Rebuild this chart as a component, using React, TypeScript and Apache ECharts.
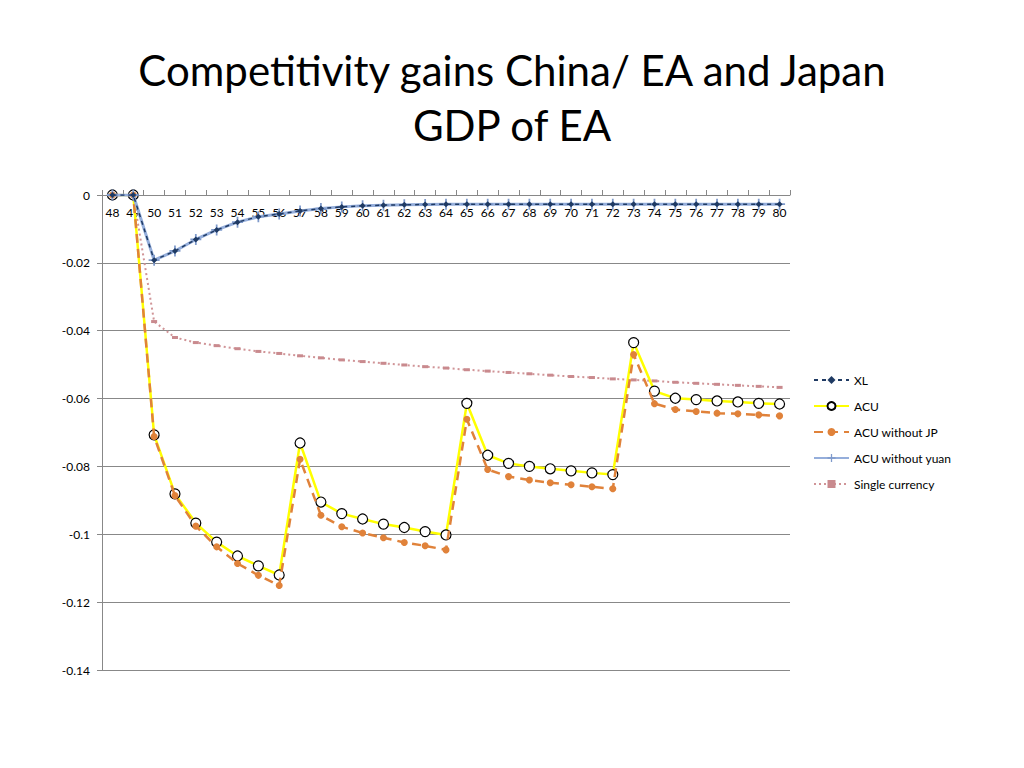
import React, { useEffect, useRef } from "react";
import * as echarts from "echarts";

const categories = [
  "48","49","50","51","52","53","54","55","56","57","58","59","60","61","62","63","64",
  "65","66","67","68","69","70","71","72","73","74","75","76","77","78","79","80",
];

const xl = [
  0, 0, -0.0192, -0.0165, -0.0131, -0.0103, -0.008, -0.0064, -0.0056, -0.0047, -0.004,
  -0.0035, -0.0032, -0.003, -0.0029, -0.0028, -0.0027, -0.0027, -0.0027, -0.0027, -0.0027,
  -0.0027, -0.0027, -0.0027, -0.0027, -0.0027, -0.0027, -0.0027, -0.0027, -0.0027, -0.0027,
  -0.0027, -0.0027,
];

const acu = [
  0, 0, -0.0707, -0.0881, -0.0967, -0.1023, -0.1064, -0.1093, -0.112, -0.0731, -0.0905,
  -0.0939, -0.0955, -0.097, -0.098, -0.0992, -0.1002, -0.0614, -0.0767, -0.0791, -0.08,
  -0.0807, -0.0813, -0.0819, -0.0824, -0.0435, -0.0578, -0.0599, -0.0603, -0.0607, -0.061,
  -0.0614, -0.0616,
];

const acuWithoutJP = [
  0, 0, -0.0712, -0.0886, -0.0976, -0.1037, -0.1086, -0.1121, -0.1151, -0.0779, -0.0944,
  -0.0978, -0.0996, -0.101, -0.1024, -0.1034, -0.1046, -0.0661, -0.0809, -0.083, -0.084,
  -0.0848, -0.0854, -0.086, -0.0866, -0.047, -0.0615, -0.0632, -0.0638, -0.0643, -0.0645,
  -0.0648, -0.0651,
];

const acuWithoutYuan = [
  0, 0, -0.0192, -0.0165, -0.0131, -0.0103, -0.008, -0.0064, -0.0056, -0.0047, -0.004,
  -0.0035, -0.0032, -0.003, -0.0029, -0.0028, -0.0027, -0.0027, -0.0027, -0.0027, -0.0027,
  -0.0027, -0.0027, -0.0027, -0.0027, -0.0027, -0.0027, -0.0027, -0.0027, -0.0027, -0.0027,
  -0.0027, -0.0027,
];

const singleCurrency = [
  0, 0, -0.0373, -0.042, -0.0435, -0.0444, -0.0453, -0.0461, -0.0467, -0.0474, -0.048,
  -0.0486, -0.0491, -0.0496, -0.0501, -0.0506, -0.051, -0.0515, -0.0519, -0.0523, -0.0527,
  -0.0531, -0.0535, -0.0538, -0.0542, -0.0545, -0.0548, -0.0552, -0.0555, -0.0558, -0.0561,
  -0.0564, -0.0567,
];

const seriesNames = ["XL", "ACU", "ACU without JP", "ACU without yuan", "Single currency"];
const titleLines = ["Competitivity gains China/ EA and Japan", "GDP of EA"];

const FONT = "Lato";
const PLUS =
  "path://M4.2,0 L5.8,0 L5.8,4.2 L10,4.2 L10,5.8 L5.8,5.8 L5.8,10 L4.2,10 L4.2,5.8 L0,5.8 L0,4.2 L4.2,4.2 Z";

export default function App() {
  const ref = useRef<HTMLDivElement>(null);

  useEffect(() => {
    if (!ref.current) return;
    const chart = echarts.init(ref.current, undefined, { renderer: "svg" });
    chart.setOption({
      animation: false,
      backgroundColor: "#ffffff",
      textStyle: { fontFamily: FONT },
      graphic: titleLines.map((t, i) => ({
        type: "text",
        x: 512,
        y: 70 + i * 55,
        style: {
          text: t,
          fontFamily: FONT,
          fontSize: 42,
          fill: "#000000",
          textAlign: "center",
          textVerticalAlign: "middle",
        },
      })),
      legend: {
        orient: "vertical",
        left: 813,
        top: 374,
        padding: 0,
        itemWidth: 35,
        itemHeight: 10,
        itemGap: 14,
        data: seriesNames,
        textStyle: { fontFamily: FONT, fontSize: 12, color: "#000000" },
      },
      grid: { left: 102, top: 195, width: 688, height: 475, containLabel: false },
      xAxis: {
        type: "category",
        position: "top",
        data: categories,
        boundaryGap: true,
        axisLine: { onZero: false, lineStyle: { color: "#888888", width: 1 } },
        axisTick: { show: true, inside: false, length: 5, lineStyle: { color: "#888888" } },
        axisLabel: {
          inside: true,
          interval: 0,
          margin: 11,
          fontFamily: FONT,
          fontSize: 12,
          color: "#000000",
        },
        splitLine: { show: false },
      },
      yAxis: {
        type: "value",
        min: -0.14,
        max: 0,
        interval: 0.02,
        axisLine: { show: true, lineStyle: { color: "#888888", width: 1 } },
        axisTick: { show: true, length: 5, lineStyle: { color: "#888888" } },
        axisLabel: {
          margin: 12,
          fontFamily: FONT,
          fontSize: 12,
          color: "#000000",
          formatter: (v: number) => String(Math.round(v * 100) / 100),
        },
        splitLine: { show: true, lineStyle: { color: "#888888", width: 1 } },
      },
      series: [
        {
          name: "XL",
          type: "line",
          data: xl,
          symbol: "diamond",
          symbolSize: 6,
          itemStyle: { color: "#1F3A63" },
          lineStyle: { color: "#1F3A63", width: 1.5, type: [4, 4] },
          z: 6,
        },
        {
          name: "ACU",
          type: "line",
          data: acu,
          symbol: "circle",
          symbolSize: 10,
          itemStyle: { color: "#ffffff", borderColor: "#000000", borderWidth: 1.2 },
          lineStyle: { color: "#FFFF00", width: 2.5 },
          z: 3,
        },
        {
          name: "ACU without JP",
          type: "line",
          data: acuWithoutJP,
          symbol: "circle",
          symbolSize: 7,
          itemStyle: { color: "#E0823A" },
          lineStyle: { color: "#E0823A", width: 2.5, type: [9, 6] },
          z: 4,
        },
        {
          name: "ACU without yuan",
          type: "line",
          data: acuWithoutYuan,
          symbol: PLUS,
          symbolSize: 11,
          itemStyle: { color: "#7F9ACB" },
          lineStyle: { color: "#95AEDB", width: 3 },
          z: 5,
        },
        {
          name: "Single currency",
          type: "line",
          data: singleCurrency,
          symbol: "rect",
          symbolSize: [6, 3],
          itemStyle: { color: "#C98A8E" },
          lineStyle: { color: "#D09497", width: 2, type: [2, 3] },
          z: 2,
        },
      ],
    });
    return () => chart.dispose();
  }, []);

  return (
    <div
      ref={ref}
      style={{ position: "fixed", left: 0, top: 0, width: 1024, height: 768, background: "#fff" }}
    />
  );
}
